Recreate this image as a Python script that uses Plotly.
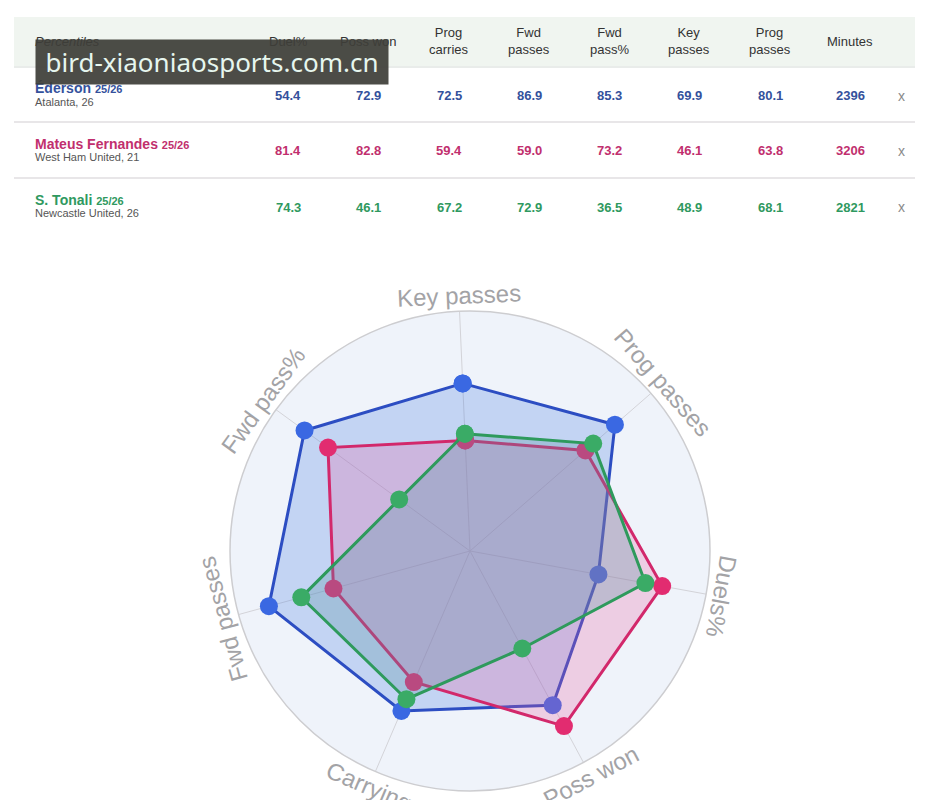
import math
import plotly.graph_objects as go

# ---------------- data ----------------
players = ["Éderson", "Mateus Fernandes", "S. Tonali"]
seasons = ["25/26", "25/26", "25/26"]
subtitles = ["Atalanta, 26", "West Ham United, 21", "Newcastle United, 26"]

table_columns = ["Duel%", "Poss won", "Prog<br>carries", "Fwd<br>passes", "Fwd<br>pass%",
                 "Key<br>passes", "Prog<br>passes", "Minutes"]
duel_pct = [54.4, 81.4, 74.3]
poss_won = [72.9, 82.8, 46.1]
prog_carries = [72.5, 59.4, 67.2]
fwd_passes = [86.9, 59.0, 72.9]
fwd_pass_pct = [85.3, 73.2, 36.5]
key_passes = [69.9, 46.1, 48.9]
prog_passes = [80.1, 63.8, 68.1]
minutes = [2396, 3206, 2821]

radar_axes = ["Key passes", "Prog passes", "Duels%", "Poss won", "Carrying", "Fwd passes", "Fwd pass%"]

text_colors = ["#34519c", "#c12f6e", "#2f9960"]
line_colors = ["#2c4dc2", "#d2286b", "#2e9a5c"]
marker_colors = ["#3a68e2", "#e22c70", "#3aab66"]
fill_colors = ["rgba(65,120,225,0.25)", "rgba(230,90,160,0.25)", "rgba(90,145,165,0.30)"]

W, H = 933, 800
OX, OY = 8, 8  # page body margin


def px(x):
    return (x - OX) / W


def py(y):
    return 1 - (y - OY) / H


fig = go.Figure()

# ---------------- radar ----------------
for i, name in enumerate(players):
    vals = [key_passes[i], prog_passes[i], duel_pct[i], poss_won[i],
            prog_carries[i], fwd_passes[i], fwd_pass_pct[i]]
    fig.add_trace(go.Scatterpolar(
        r=vals + [vals[0]],
        theta=radar_axes + [radar_axes[0]],
        mode="lines+markers",
        fill="toself",
        fillcolor=fill_colors[i],
        line=dict(color=line_colors[i], width=3),
        marker=dict(color=marker_colors[i], size=18),
        name=name,
        showlegend=False,
    ))

cx, cy, R = 470, 551, 240
tilt = 2.5  # slight counter-clockwise tilt of the whole radar
fig.update_layout(
    polar=dict(
        domain=dict(x=[px(cx - R), px(cx + R)], y=[py(cy + R), py(cy - R)]),
        bgcolor="#eff3fa",
        angularaxis=dict(
            direction="clockwise", rotation=90 + tilt,
            categoryorder="array", categoryarray=radar_axes,
            showticklabels=False, ticks="",
            gridcolor="#d3d3d8", gridwidth=1,
            linecolor="#cdcdd0", linewidth=1.5,
        ),
        radialaxis=dict(range=[0, 100], showticklabels=False, ticks="",
                        showgrid=False, showline=False),
    )
)

annotations = []
# rotated axis labels around the circle
n = len(radar_axes)
for k, lab in enumerate(radar_axes):
    th = 360.0 * k / n
    a = th if th <= 180 else th - 360
    if abs(a) > 130:
        a = a - 180 if a > 0 else a + 180
    d = R + 16
    tt = th - tilt
    x = cx + d * math.sin(math.radians(tt))
    y = cy - d * math.cos(math.radians(tt))
    annotations.append(dict(
        x=px(x), y=py(y), xref="paper", yref="paper",
        text=lab, showarrow=False, textangle=a - tilt,
        xanchor="center", yanchor="middle",
        font=dict(family="Liberation Sans, Arial, sans-serif", size=24, color="#a3a3a6"),
    ))

# ---------------- table ----------------
shapes = [
    dict(type="rect", xref="paper", yref="paper", x0=px(14), x1=px(915), y0=py(66), y1=py(17),
         fillcolor="#f0f5f0", line=dict(width=0), layer="below"),
    dict(type="line", xref="paper", yref="paper", x0=px(14), x1=px(915), y0=py(67), y1=py(67),
         line=dict(color="#e9ecea", width=2)),
    dict(type="line", xref="paper", yref="paper", x0=px(14), x1=px(915), y0=py(122), y1=py(122),
         line=dict(color="#e8e6e8", width=2)),
    dict(type="line", xref="paper", yref="paper", x0=px(14), x1=px(915), y0=py(178), y1=py(178),
         line=dict(color="#e8e6e8", width=2)),
]

font_fam = "Liberation Sans, Arial, sans-serif"
col_x = [288, 368, 449, 529, 609, 689, 770, 850]

annotations.append(dict(x=px(33), y=py(41), xref="paper", yref="paper", text="<i>Percentiles</i>",
                        showarrow=False, xanchor="left", yanchor="middle",
                        font=dict(family=font_fam, size=13, color="#333333")))
for cxp, lab in zip(col_x, table_columns):
    annotations.append(dict(x=px(cxp), y=py(41), xref="paper", yref="paper", text=lab,
                            showarrow=False, xanchor="center", yanchor="middle",
                            font=dict(family=font_fam, size=13, color="#333333")))

row_y = [96, 151, 207]
for i in range(len(players)):
    ry = row_y[i]
    annotations.append(dict(
        x=px(33), y=py(ry - 7.5), xref="paper", yref="paper",
        text=f"<b>{players[i]}</b> <b><span style='font-size:11px'>{seasons[i]}</span></b>",
        showarrow=False, xanchor="left", yanchor="middle",
        font=dict(family=font_fam, size=14, color=text_colors[i])))
    annotations.append(dict(
        x=px(33), y=py(ry + 5.5), xref="paper", yref="paper", text=subtitles[i],
        showarrow=False, xanchor="left", yanchor="middle",
        font=dict(family=font_fam, size=11, color="#555555")))
    row_vals = [duel_pct[i], poss_won[i], prog_carries[i], fwd_passes[i], fwd_pass_pct[i],
                key_passes[i], prog_passes[i]]
    texts = [f"{v:.1f}" for v in row_vals] + [str(minutes[i])]
    for cxp, t in zip(col_x, texts):
        annotations.append(dict(
            x=px(cxp), y=py(ry), xref="paper", yref="paper", text=f"<b>{t}</b>",
            showarrow=False, xanchor="center", yanchor="middle",
            font=dict(family=font_fam, size=13, color=text_colors[i])))
    annotations.append(dict(
        x=px(901), y=py(ry), xref="paper", yref="paper", text="x",
        showarrow=False, xanchor="center", yanchor="middle",
        font=dict(family=font_fam, size=14, color="#8a8a8a")))

# watermark overlay
annotations.append(dict(
    x=px(212), y=py(62), xref="paper", yref="paper", text="bird-xiaoniaosports.com.cn",
    showarrow=False, xanchor="center", yanchor="middle",
    bgcolor="rgba(62,62,57,0.93)", borderpad=4, width=344,
    font=dict(family="Noto Sans, Open Sans, sans-serif", size=26, color="#e6f6ee")))

fig.update_layout(
    width=W, height=H,
    margin=dict(l=0, r=0, t=0, b=0),
    paper_bgcolor="white", plot_bgcolor="white",
    shapes=shapes, annotations=annotations,
    showlegend=False,
)

fig.write_html("out.html")
